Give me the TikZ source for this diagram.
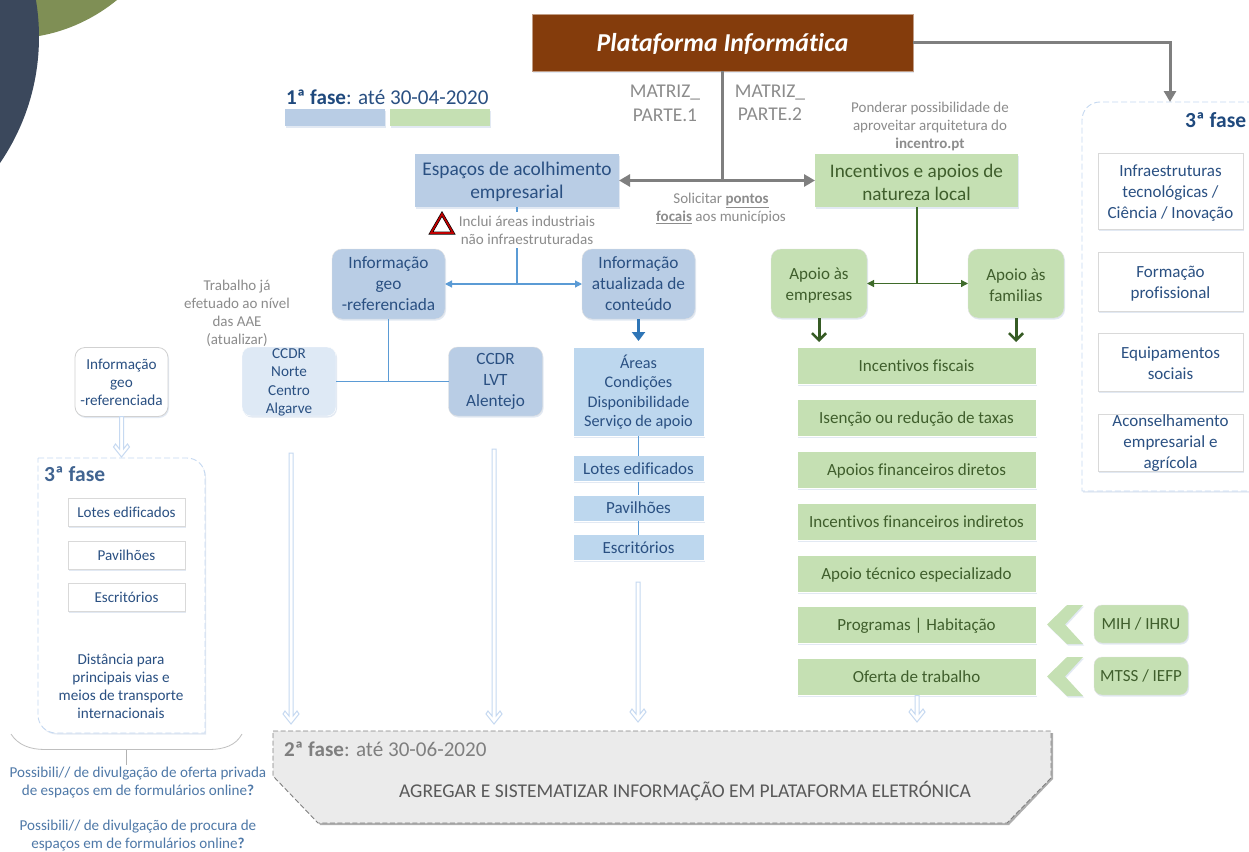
\documentclass[tikz,border=0pt]{standalone}
\usepackage{fontspec}
\setmainfont[Ligatures=NoCommon]{Carlito}
\usetikzlibrary{arrows.meta,shadows,calc}
\definecolor{brownP}{HTML}{843C0C}
\definecolor{blueF}{HTML}{B9CDE5}
\definecolor{blueL}{HTML}{BDD7EE}
\definecolor{blueP}{HTML}{DEE9F5}
\definecolor{greenF}{HTML}{C5E0B3}
\definecolor{txtB}{HTML}{2A5082}
\definecolor{txtH}{HTML}{1F497D}
\definecolor{txtP}{HTML}{4F79A8}
\definecolor{txtG}{HTML}{3F5E2C}
\definecolor{greyT}{HTML}{8C8C8C}
\definecolor{greyL}{HTML}{7F7F7F}
\definecolor{lineB}{HTML}{5B9BD5}
\definecolor{lineD}{HTML}{2E75B6}
\definecolor{lineG}{HTML}{3F6B2A}
\definecolor{hollow}{HTML}{C6D9F1}
\definecolor{shB}{HTML}{C6D4E8}
\definecolor{discG}{HTML}{7F8F55}
\definecolor{discN}{HTML}{3B485C}
\definecolor{redT}{HTML}{C00000}
\definecolor{panelG}{HTML}{EBEBEB}
\newcommand\fsz[2]{\fontsize{#1}{#2}\selectfont}
\newcommand\tp[1]{\rule{0pt}{#1pt}}
\newcommand\hollowarrow[2]{%
  \path[hollowst] ($(#1)+(-2,0)$) -- ($(#2)+(-2,-8)$) -- ($(#2)+(-6,-13)$) -- ($(#2)+(-8,-10)$) -- (#2) -- ($(#2)+(8,-10)$) -- ($(#2)+(6,-13)$) -- ($(#2)+(2,-8)$) -- ($(#1)+(2,0)$) -- cycle;}
\tikzset{
  x=1pt,y=-1pt,
  softsh/.style={drop shadow={shadow xshift=1pt,shadow yshift=-1.5pt,fill=shB,opacity=.5}},
  base/.style={align=center,inner sep=0pt,outer sep=0pt},
  sq/.style={base,rectangle,softsh},
  blueH/.style={sq,fill=blueF,text=txtB,minimum width=204pt,minimum height=53pt,font=\fsz{19.4}{23}},
  greenH/.style={sq,fill=greenF,text=txtG,minimum width=203pt,minimum height=53pt,font=\fsz{19.2}{23}},
  blueR/.style={base,rounded corners=10pt,fill=blueF,text=txtB,draw=black!12,softsh,minimum width=113pt,minimum height=70pt,font=\fsz{17.3}{21}},
  greenR/.style={base,rounded corners=10pt,fill=greenF,text=txtG,draw=black!12,softsh,minimum width=96pt,minimum height=69pt,font=\fsz{17}{21}},
  ccdr/.style={base,rounded corners=9pt,minimum width=94pt,minimum height=69pt,softsh},
  blueList/.style={sq,fill=blueL,draw=white,line width=.6pt,text=txtB,minimum width=131pt,minimum height=26pt,font=\fsz{17}{19},text height=13pt,text depth=2pt},
  greenList/.style={sq,fill=greenF,draw=white,line width=.6pt,text=txtG,minimum width=239pt,minimum height=37pt,font=\fsz{17}{19},text height=13pt,text depth=2pt},
  whiteBox/.style={sq,fill=white,draw=black!15,line width=.8pt,text=txtB,font=\fsz{17}{21}},
  smallBox/.style={whiteBox,minimum width=117pt,minimum height=28pt,font=\fsz{15.1}{18},text height=12pt,text depth=2pt},
  greenTag/.style={base,rounded corners=8pt,fill=greenF,text=txtG,draw=black!12,softsh,minimum width=94pt,minimum height=38pt,font=\fsz{17}{19},text height=13pt,text depth=2pt},
  note/.style={base,text=greyT,font=\fsz{15}{18}},
  askText/.style={base,text=txtP,font=\fsz{15.1}{18}},
  dashbox/.style={draw=hollow,dashed,dash pattern=on 6pt off 3pt,line width=.9pt,fill=white,softsh},
  chev/.style={fill=greenF,draw=none,softsh},
  greyArrow/.style={draw=greyL,line width=3pt,-{Triangle[length=11pt,width=12pt]}},
  blueArrow/.style={draw=lineB,line width=1.2pt,-{Triangle[length=7pt,width=7pt]}},
  greenArrow/.style={draw=lineG,line width=1.2pt,-{Triangle[length=7pt,width=7pt]}},
  bluePlain/.style={draw=lineB,line width=1.2pt},
  hollowst/.style={fill=white,draw=hollow,line width=1pt,line join=miter},
}
\begin{document}
\begin{tikzpicture}
\clip (0,0) rectangle (1249,851);
\fill[white] (0,0) rectangle (1249,851);
% corner discs
\fill[discG] (0,0) -- (117,0) .. controls (95,18) and (68,31) .. (39,36) -- (0,36) -- cycle;
\fill[discN] (-184,37) circle (223);

% --- top
\node[base,fill=brownP,draw=brownP!50!white,line width=.7pt,text=white,minimum width=381pt,minimum height=57pt,softsh,font=\fsz{25.8}{30}\bfseries\itshape,text depth=2pt,text height=20pt] (plat) at (722.5,42.5) {Plataforma Informática};
\node[base,anchor=west,text=txtB,font=\fsz{21.1}{24}] (f1) at (286,97) {\textcolor{txtH}{\textbf{1ª fase}}: até 30-04-2020};
\node[sq,fill=blueF,minimum width=100pt,minimum height=17pt] (leg1) at (335,117.5) {};
\node[sq,fill=greenF,minimum width=100pt,minimum height=17pt] (leg2) at (440,117.5) {};
\node[base,text=greyT,font=\fsz{19.5}{24}] (m1) at (665,103) {MATRIZ\_\\PARTE.1};
\node[base,text=greyT,font=\fsz{19.5}{23}] (m2) at (770,102.5) {MATRIZ\_\\PARTE.2};
\node[note] (pond) at (930,126) {Ponderar possibilidade de\\aproveitar arquitetura do\\\textbf{incentro.pt}};

\node[blueH] (esp) at (517,180.5) {\tp{17}Espaços de acolhimento\\empresarial};
\node[greenH] (inc) at (916.5,180.5) {\tp{17}Incentivos e apoios de\\natureza local};
\node[note] (sol) at (721,208.5) {Solicitar \underline{\textbf{pontos}}\\\underline{\textbf{focais}} aos municípios};

\coordinate (jt) at (722,180.5);
\draw[draw=greyL,line width=3pt] (plat.south -| jt) -- (jt);
\draw[greyArrow] (jt) -- (esp.east);
\draw[greyArrow] (jt) -- (inc.west);

% --- blue branch
\node[blueR] (geo) at (388.5,284) {Informação\\geo\\-referenciada};
\node[blueR] (atu) at (638.5,284) {Informação\\atualizada de\\conteúdo};
\coordinate (jb) at (517,284);
\draw[bluePlain] (esp.south) -- (jb);
\draw[blueArrow] (jb) -- (geo.east);
\draw[blueArrow] (jb) -- (atu.west);
\node[base,fill=white,text=greyT,font=\fsz{15.1}{18},minimum width=140pt,minimum height=36pt] (inc2) at (527,230) {Inclui áreas industriais\\não infraestruturadas};
\path[fill=white,draw=black,line width=3pt,line join=miter] (442,214) -- (453,233) -- (431,233) -- cycle;
\path[draw=redT,line width=1.7pt,line join=miter] (442,214) -- (453,233) -- (431,233) -- cycle;

\node[note] (trab) at (237,313) {Trabalho já\\efetuado ao nível\\das AAE\\(atualizar)};
\node[ccdr,fill=blueP,draw=white] (cc1) at (289,381.5) {};
\node[base,text=txtB,font=\fsz{15.2}{18.3}] (cc1t) at (289,382.5) {CCDR\\Norte\\Centro\\Algarve};
\node[ccdr,fill=blueF,draw=black!12,text=txtB,font=\fsz{17.2}{21}] (cc2) at (495.5,381.5) {CCDR\\LVT\\Alentejo};
\draw[bluePlain] (cc1.east) -- (cc2.west);
\draw[bluePlain] (geo.south) -- (geo.south |- cc1.east);

\node[sq,fill=blueL,draw=white,line width=.6pt,text=txtB,minimum width=131pt,minimum height=89pt,font=\fsz{16.2}{19.3}] (are) at (638.5,391.5) {\tp{15}Áreas\\Condições\\Disponibilidade\\Serviço de apoio};
\node[blueList] (lot) at (638.5,468.5) {Lotes edificados};
\node[blueList] (pav) at (638.5,508) {Pavilhões};
\node[blueList] (esc) at (638.5,547.5) {Escritórios};
\draw[lineB,line width=1pt] (are) -- (lot);
\draw[lineB,line width=1pt] (lot) -- (pav);
\draw[lineB,line width=1pt] (pav) -- (esc);
\draw[lineD,line width=3pt,-{Triangle[length=9pt,width=13pt]}] (atu.south) -- ($(atu.south)+(0,22)$);

% --- green branch
\node[greenR] (emp) at (819,283.5) {\tp{15}Apoio às\\empresas};
\node[greenR] (fam) at (1016,283.5) {\tp{15}Apoio às\\familias};
\coordinate (jg) at (917,283.5);
\draw[lineG,line width=1.2pt] (inc.south -| jg) -- (jg);
\draw[greenArrow] (jg) -- (emp.east);
\draw[greenArrow] (jg) -- (fam.west);
\foreach \n/\y/\t in {g1/366/Incentivos fiscais,g2/418/Isenção ou redução de taxas,g3/470/Apoios financeiros diretos,g4/522/Incentivos financeiros indiretos,g5/573.5/Apoio técnico especializado,g6/625/Programas | Habitação,g7/677/Oferta de trabalho}
  \node[greenList] (\n) at (916.5,\y) {\t};
\draw[lineG!85!black,line width=3pt,-{Straight Barb[length=7pt,width=14pt,line width=2.6pt]}] (emp.south) -- ($(emp.south)+(0,24)$);
\draw[lineG!85!black,line width=3pt,-{Straight Barb[length=7pt,width=14pt,line width=2.6pt]}] (fam.south) -- ($(fam.south)+(0,24)$);
\node[greenTag] (mih) at (1141,624) {MIH / IHRU};
\node[greenTag] (mts) at (1141,676) {MTSS / IEFP};
\path[chev] (1047,624.5) -- (1067,605) -- (1083,605) -- (1065,624.5) -- (1083,644) -- (1067,644) -- cycle;
\path[chev] (1047,676.5) -- (1067,657) -- (1083,657) -- (1065,676.5) -- (1083,696) -- (1067,696) -- cycle;

% --- right 3rd phase
\path[dashbox] (1262,102) -- (1100,102) .. controls (1090,102) and (1082,110) .. (1082,120) -- (1082,491) -- (1262,491);
\node[base,anchor=west,text=txtH,font=\fsz{21.5}{24}\bfseries] (f3r) at (1185,120) {3ª fase};
\node[whiteBox,minimum width=145pt,minimum height=76pt] (r1) at (1170.5,191) {\tp{15}Infraestruturas\\tecnológicas /\\Ciência / Inovação};
\node[whiteBox,minimum width=145pt,minimum height=59pt] (r2) at (1170.5,281.5) {\tp{15}Formação\\profissional};
\node[whiteBox,minimum width=145pt,minimum height=58pt] (r3) at (1170.5,362) {\tp{15}Equipamentos\\sociais};
\node[whiteBox,minimum width=145pt,minimum height=57pt] (r4) at (1170.5,442.5) {};
\node[base,text=txtB,font=\fsz{17}{21}] (r4t) at (1170.5,443) {Aconselhamento\\empresarial e\\agrícola};
\coordinate (rtop) at (1170,102);
\coordinate (rbend) at (1170,43);
\draw[draw=greyL,line width=3pt,-{Triangle[length=11pt,width=12pt]}] (plat.east |- rbend) -- (rbend) -- (rtop);

% --- left 3rd phase
\node[base,rounded corners=10pt,fill=white,draw=black!18,line width=.8pt,softsh,text=txtB,font=\fsz{15.2}{18},minimum width=93pt,minimum height=69pt] (lgeo) at (121.5,382) {Informação\\geo\\-referenciada};
\path[dashbox] (38,458) -- (187,458) .. controls (197,458) and (205,466) .. (205,476) -- (205,733) -- (56,733) .. controls (46,733) and (38,725) .. (38,715) -- cycle;
\coordinate (ltop) at (121.5,457);
\hollowarrow{lgeo.south}{ltop}
\node[base,anchor=west,text=txtH!85!white,font=\fsz{21.5}{24}\bfseries] (f3l) at (44,474) {3ª fase};
\node[smallBox] (l1) at (126.5,512.5) {Lotes edificados};
\node[smallBox] (l2) at (126.5,555) {Pavilhões};
\node[smallBox] (l3) at (126.5,597) {Escritórios};
\node[base,text=txtB,font=\fsz{15.2}{18}] (dist) at (121,686) {Distância para\\principais vias e\\meios de transporte\\internacionais};

\draw[black!25,line width=.8pt] (11,734) .. controls (18,745) and (30,749.5) .. (45,749.5) -- (208,749.5) .. controls (225,749.5) and (236,745) .. (242,734);
\coordinate (bt) at (126,749.5);
\coordinate (bb) at (126,765);
\draw[black!30,line width=1pt] (bt) -- (bb);
\node[askText] (a1) at (138,782.5) {Possibili// de divulgação de oferta privada\\de espaços em de formulários online\textbf{?}};
\node[askText] (a2) at (138,836) {Possibili// de divulgação de procura de\\espaços em de formulários online\textbf{?}};

% --- 2nd phase
\path[fill=black!70,opacity=.45] (275,733) -- (1053,733) -- (1053,779) -- (1009,825) -- (320,825) -- cycle;
\path[fill=panelG,draw=black!50,dashed,dash pattern=on 5pt off 2.5pt,line width=.9pt] (273,731) -- (1051,731) -- (1051,778) -- (1007,823) -- (318,823) -- (273,776) -- cycle;
\node[base,anchor=west,text=greyL,font=\fsz{21.1}{24}] (f2) at (284,749) {\textbf{2ª fase}: até 30-06-2020};
\node[base,text=black!65,font=\fsz{19.5}{24}] (ag) at (685,791) {AGREGAR E SISTEMATIZAR INFORMAÇÃO EM PLATAFORMA ELETRÓNICA};

\coordinate (h1a) at (291,453); \coordinate (h1b) at (291,724);
\coordinate (h2a) at (494,449); \coordinate (h2b) at (494,724);
\coordinate (h3a) at (638,582); \coordinate (h3b) at (638,722);
\coordinate (h4b) at (917,722);
\hollowarrow{h1a}{h1b}
\hollowarrow{h2a}{h2b}
\hollowarrow{h3a}{h3b}
\hollowarrow{g7.south -| h4b}{h4b}
\end{tikzpicture}
\end{document}
